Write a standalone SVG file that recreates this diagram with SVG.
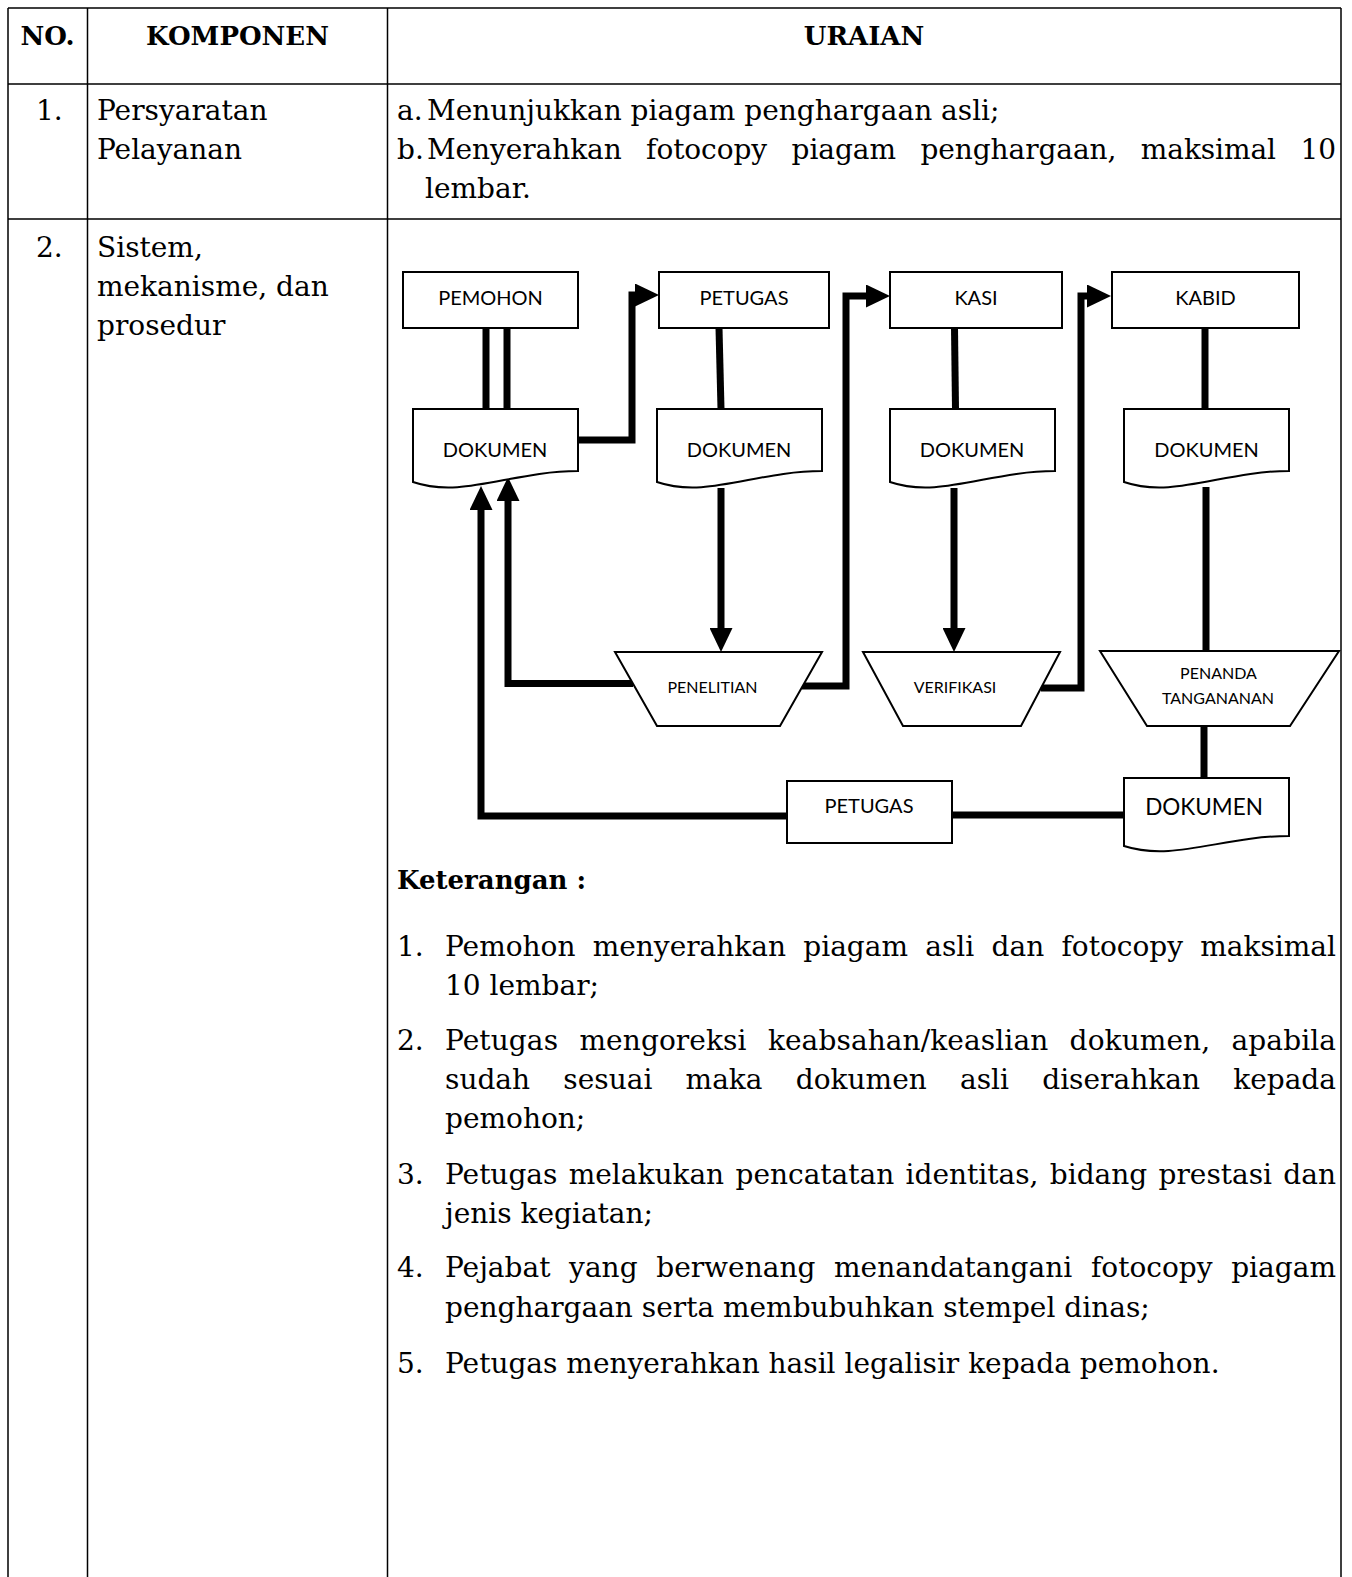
<svg xmlns="http://www.w3.org/2000/svg" width="1352" height="1577" viewBox="0 0 1352 1577">
<style>
.grid{stroke:#000;stroke-width:1.5;fill:none}
.t{font-family:"DejaVu Serif","Liberation Serif",serif;font-size:28px;fill:#000}
.h{font-family:"DejaVu Serif","Liberation Serif",serif;font-size:26px;font-weight:bold;fill:#000}
.box{fill:#fff;stroke:#000;stroke-width:2}
.lbl{font-family:Lato,"Open Sans",sans-serif;font-size:20px;text-anchor:middle;fill:#000}
.sm{font-size:16px}
.big{font-size:22.5px}
.con{fill:none;stroke:#000;stroke-width:7;stroke-linejoin:miter}
</style>
<defs>
<marker id="ah" markerUnits="userSpaceOnUse" markerWidth="24" markerHeight="23" viewBox="0 0 24 23" refX="0" refY="11.5" orient="auto">
<path d="M0,0 L24,11.5 L0,23 Z" fill="#000"/>
</marker>
</defs>
<rect width="1352" height="1577" fill="#fff"/>

<g id="table">
<path class="grid" d="M8,8 H1341 M8,84 H1341 M8,219 H1341 M8,8 V1577 M87.5,8 V1577 M387.5,8 V1577 M1341,8 V1577"/>
<text class="h" x="47.5" y="45" text-anchor="middle">NO.</text>
<text class="h" x="237.5" y="45" text-anchor="middle">KOMPONEN</text>
<text class="h" x="864" y="45" text-anchor="middle">URAIAN</text>
<text class="t" x="36" y="120">1.</text>
<text class="t" x="97" y="120">Persyaratan</text>
<text class="t" x="97" y="159">Pelayanan</text>
<text class="t" x="397" y="120">a.</text>
<text class="t" x="427" y="120">Menunjukkan piagam penghargaan asli;</text>
<text class="t" x="397" y="159">b.</text>
<text class="t" x="427" y="159" word-spacing="15.7" textLength="909" lengthAdjust="spacing">Menyerahkan fotocopy piagam penghargaan, maksimal 10</text>
<text class="t" x="425" y="198">lembar.</text>
<text class="t" x="36" y="257">2.</text>
<text class="t" x="97" y="257">Sistem,</text>
<text class="t" x="97" y="296">mekanisme, dan</text>
<text class="t" x="97" y="335">prosedur</text>
</g>

<g id="connectors">
<path class="con" d="M486,328 V409"/>
<path class="con" d="M507,328 V409"/>
<path class="con" d="M578,440 H632 V295 H635" marker-end="url(#ah)"/>
<path class="con" d="M719,328 L721,409"/>
<path class="con" d="M721,488 V628" marker-end="url(#ah)"/>
<path class="con" d="M802,686 H846 V296 H866" marker-end="url(#ah)"/>
<path class="con" d="M954.5,328 L955.5,409"/>
<path class="con" d="M954,488 V628" marker-end="url(#ah)"/>
<path class="con" d="M1041,688 H1081 V296 H1087" marker-end="url(#ah)"/>
<path class="con" d="M1205,328 V409"/>
<path class="con" d="M1206,487 V651"/>
<path class="con" d="M1204,726 V778"/>
<path class="con" d="M1124,815 H952"/>
<path class="con" d="M787,816 H481 V510" marker-end="url(#ah)"/>
<path class="con" d="M633,683.5 H508 V501" marker-end="url(#ah)"/>
</g>

<g id="pemohon"><rect class="box" x="403" y="272" width="175" height="56"/><text class="lbl" x="490.5" y="305">PEMOHON</text></g>
<g id="petugas"><rect class="box" x="659" y="272" width="170" height="56"/><text class="lbl" x="744" y="305">PETUGAS</text></g>
<g id="kasi"><rect class="box" x="890" y="272" width="172" height="56"/><text class="lbl" x="976" y="305">KASI</text></g>
<g id="kabid"><rect class="box" x="1112" y="272" width="187" height="56"/><text class="lbl" x="1205.5" y="305">KABID</text></g>

<g id="dokumen1"><path class="box" d="M413,409 H578 V471 C512,471 462.5,499 413,482 Z"/><text class="lbl" x="495" y="457">DOKUMEN</text></g>
<g id="dokumen2"><path class="box" d="M657,409 H822 V471 C756,471 706.5,499 657,482 Z"/><text class="lbl" x="739" y="457">DOKUMEN</text></g>
<g id="dokumen3"><path class="box" d="M890,409 H1055 V471 C989,471 939.5,499 890,482 Z"/><text class="lbl" x="972" y="457">DOKUMEN</text></g>
<g id="dokumen4"><path class="box" d="M1124,409 H1289 V471 C1223,471 1173.5,499 1124,482 Z"/><text class="lbl" x="1206.5" y="457">DOKUMEN</text></g>

<g id="penelitian"><polygon class="box" points="615,652 822,652 780,726 657,726"/><text class="lbl sm" x="712.5" y="693">PENELITIAN</text></g>
<g id="verifikasi"><polygon class="box" points="863,652 1060,652 1021,726 903,726"/><text class="lbl sm" x="955" y="693">VERIFIKASI</text></g>
<g id="penanda"><polygon class="box" points="1100,651 1339,651 1290,726 1147,726"/><text class="lbl sm" x="1218.5" y="679">PENANDA</text><text class="lbl sm" x="1218" y="704">TANGANANAN</text></g>

<g id="petugas2"><rect class="box" x="787" y="781" width="165" height="62"/><text class="lbl" x="869" y="813">PETUGAS</text></g>
<g id="dokumen5"><path class="box" d="M1124,778 H1289 V836 C1223,836 1173.5,862 1124,846 Z"/><text class="lbl big" x="1204" y="815">DOKUMEN</text></g>

<g id="keterangan">
<text class="h" x="397" y="889">Keterangan :</text>
<text class="t" x="397" y="956">1.</text>
<text class="t" x="445" y="956" word-spacing="8.4" textLength="891" lengthAdjust="spacing">Pemohon menyerahkan piagam asli dan fotocopy maksimal</text>
<text class="t" x="445" y="995">10 lembar;</text>
<text class="t" x="397" y="1050">2.</text>
<text class="t" x="445" y="1050" word-spacing="12.3" textLength="891" lengthAdjust="spacing">Petugas mengoreksi keabsahan/keaslian dokumen, apabila</text>
<text class="t" x="445" y="1089" word-spacing="24.3" textLength="891" lengthAdjust="spacing">sudah sesuai maka dokumen asli diserahkan kepada</text>
<text class="t" x="445" y="1128">pemohon;</text>
<text class="t" x="397" y="1184">3.</text>
<text class="t" x="445" y="1184" word-spacing="2.5" textLength="891" lengthAdjust="spacing">Petugas melakukan pencatatan identitas, bidang prestasi dan</text>
<text class="t" x="445" y="1223">jenis kegiatan;</text>
<text class="t" x="397" y="1277">4.</text>
<text class="t" x="445" y="1277" word-spacing="9.7" textLength="891" lengthAdjust="spacing">Pejabat yang berwenang menandatangani fotocopy piagam</text>
<text class="t" x="445" y="1317">penghargaan serta membubuhkan stempel dinas;</text>
<text class="t" x="397" y="1373">5.</text>
<text class="t" x="445" y="1373">Petugas menyerahkan hasil legalisir kepada pemohon.</text>
</g>
</svg>
